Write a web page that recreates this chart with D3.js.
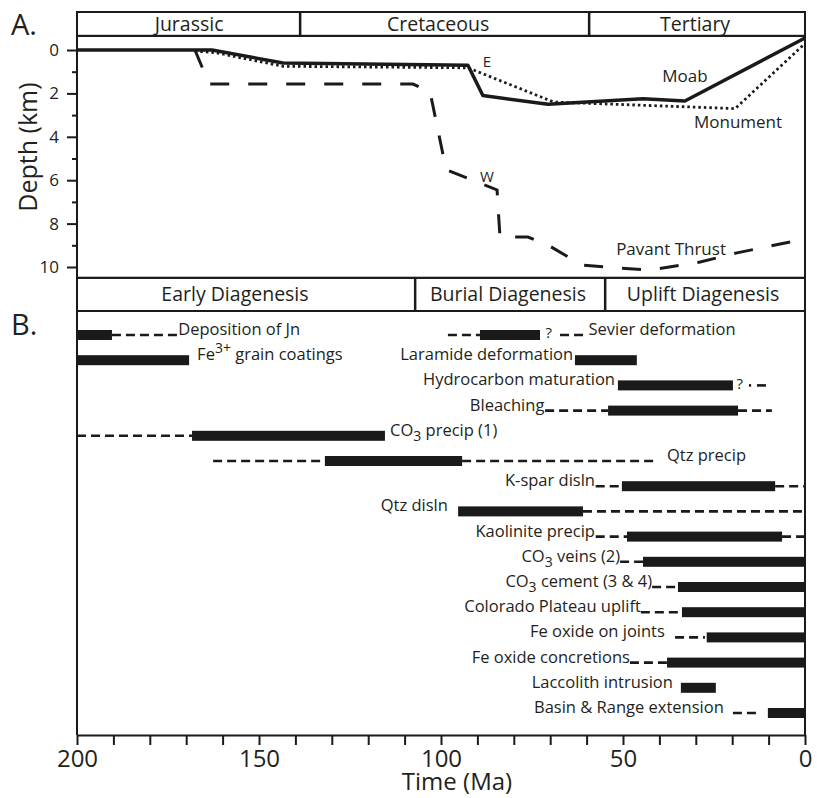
<!DOCTYPE html>
<html>
<head>
<meta charset="utf-8">
<script src="https://cdn.jsdelivr.net/npm/d3@7"></script>
<style>
  body { margin: 0; background: #fff; }
  text { font-family: "Open Sans", sans-serif; fill: #231f20; }
</style>
</head>
<body>
<script>
// ---- data ----
// geologic periods and diagenesis stages (boundaries in Ma, label centre in Ma)
var periods = ["Jurassic", "Cretaceous", "Tertiary"];
var periodBounds = [200, 138.7, 59.3, 0];
var periodLabelAt = [169.2, 100.8, 30.2];
var stages = ["Early Diagenesis", "Burial Diagenesis", "Uplift Diagenesis"];
var stageBounds = [200, 107.1, 54.9, 0];
var stageLabelAt = [156.6, 81.6, 28.0];

// burial curves: age (Ma) and depth (km)
var moabAge = [200, 162.9, 143.4, 92.6, 88.5, 70.6, 44.5, 33, 0];
var moabDepth = [0, 0, 0.6, 0.7, 2.1, 2.5, 2.25, 2.35, -0.55];
var monumentAge = [167.6, 162, 143.4, 92.6, 69, 19.2, 0];
var monumentDepth = [0.05, 0.12, 0.75, 0.82, 2.4, 2.7, -0.3];
var pavantAge = [167.6, 163.7, 107.7, 103, 98.6, 84.6, 83.8, 81, 76.1, 70.6, 61.3, 50.8, 42.6, 28.8, 18.7, 8.2, 0];
var pavantDepth = [0, 1.57, 1.57, 1.94, 5.51, 6.45, 8.62, 8.62, 8.62, 8.99, 9.91, 10.05, 10.14, 9.77, 9.35, 8.99, 8.71];

// curve labels (age, depth at baseline)
var curveLabels = [
  { text: "E", age: 87.4, depth: 0.78, size: 15 },
  { text: "Moab", age: 33, depth: 1.47, size: 17 },
  { text: "Monument", age: 18.4, depth: 3.6, size: 17 },
  { text: "W", age: 87.4, depth: 6.08, size: 15 },
  { text: "Pavant Thrust", age: 36.8, depth: 9.45, size: 17 }
];

// paragenetic events: row, solid spans, dashed spans (Ma), label position
var events = [
  { name: "Deposition of Jn", row: 0, bars: [[200, 190.4]], dashes: [[190.4, 172.3]], at: 172.2, side: "start" },
  { name: "Sevier deformation", row: 0, bars: [[89.3, 72.8]], dashes: [[98.1, 89.3], [67.3, 59.6]], at: 59.5, side: "start" },
  { name: "Fe^{3+} grain coatings", row: 1, bars: [[200, 169.2]], dashes: [], at: 167.0, side: "start" },
  { name: "Laramide deformation", row: 1, bars: [[63.2, 46.2]], dashes: [], at: 63.7, side: "end" },
  { name: "Hydrocarbon maturation", row: 2, bars: [[51.4, 19.8]], dashes: [[15.4, 14.8], [13.2, 10.2]], at: 52.2, side: "end" },
  { name: "Bleaching", row: 3, bars: [[54.1, 18.4]], dashes: [[71.4, 54.1], [18.4, 9.1]], at: 71.6, side: "end" },
  { name: "CO_{3} precip (1)", row: 4, bars: [[168.4, 115.4]], dashes: [[200, 168.4]], at: 114.0, side: "start" },
  { name: "Qtz precip", row: 5, bars: [[131.9, 94.2]], dashes: [[162.6, 131.9], [94.2, 40.4]], at: 37.9, side: "start" },
  { name: "K-spar disln", row: 6, bars: [[50.3, 8.2]], dashes: [[57.5, 50.3], [8.2, 0]], at: 57.7, side: "end" },
  { name: "Qtz disln", row: 7, bars: [[95.3, 61.0]], dashes: [[61.0, 0]], at: 98.1, side: "end" },
  { name: "Kaolinite precip", row: 8, bars: [[48.9, 6.3]], dashes: [[57.5, 48.9], [6.3, 0]], at: 57.7, side: "end" },
  { name: "CO_{3} veins (2)", row: 9, bars: [[44.5, 0]], dashes: [[50.8, 44.5]], at: 50.8, side: "end" },
  { name: "CO_{3} cement (3 & 4)", row: 10, bars: [[34.9, 0]], dashes: [[42.0, 34.9]], at: 42.0, side: "end" },
  { name: "Colorado Plateau uplift", row: 11, bars: [[33.8, 0]], dashes: [[45.1, 33.8]], at: 45.1, side: "end" },
  { name: "Fe oxide on joints", row: 12, bars: [[27.0, 0]], dashes: [[35.7, 27.5]], at: 38.5, side: "end" },
  { name: "Fe oxide concretions", row: 13, bars: [[37.9, 0]], dashes: [[48.1, 37.9]], at: 48.1, side: "end" },
  { name: "Laccolith intrusion", row: 14, bars: [[34.1, 24.5]], dashes: [], at: 36.3, side: "end" },
  { name: "Basin & Range extension", row: 15, bars: [[10.2, 0]], dashes: [[19.8, 12.4]], at: 22.3, side: "end" }
];
var queries = [{ row: 0, age: 70.4 }, { row: 2, age: 17.9 }];

var depthLabels = [0, 2, 4, 6, 8, 10];
var depthMinor = [1, 3, 5, 7, 9];
var timeLabels = [200, 150, 100, 50, 0];
var timeTicks = [200, 190, 180, 170, 160, 150, 140, 130, 120, 110, 100, 90, 80, 70, 60, 50, 40, 30, 20, 10, 0];

// ---- chart ----
var ink = "#1a1a1a";
var svg = d3.select("body").append("svg")
  .attr("width", 817)
  .attr("height", 798);

var x = d3.scaleLinear().domain([200, 0]).range([77, 805]);
var depth = d3.scaleLinear().domain([0, 10]).range([50, 267]);
var rowY = d3.scalePoint().domain(d3.range(16)).range([335, 713]);

var topA = depth(-0.65), botA = depth(10.5);
var bandTop = 12, stageBot = 311, axisY = 735;

function band(names, bounds, labelAt, y0, y1) {
  var g = svg.append("g");
  g.append("rect")
    .attr("x", x(200)).attr("y", y0)
    .attr("width", x(0) - x(200)).attr("height", y1 - y0)
    .attr("fill", "none").attr("stroke", ink).attr("stroke-width", 2);
  g.selectAll("line").data(bounds.slice(1, -1)).enter().append("line")
    .attr("x1", function (d) { return x(d); }).attr("x2", function (d) { return x(d); })
    .attr("y1", y0).attr("y2", y1)
    .attr("stroke", ink).attr("stroke-width", 2.5);
  g.selectAll("text").data(names).enter().append("text")
    .attr("x", function (d, i) { return x(labelAt[i]); })
    .attr("y", (y0 + y1) / 2)
    .attr("dy", "0.36em")
    .attr("text-anchor", "middle")
    .attr("font-size", 19.5)
    .text(function (d) { return d; });
}

band(periods, periodBounds, periodLabelAt, bandTop, topA);
band(stages, stageBounds, stageLabelAt, botA, stageBot);

// panel A frame
svg.append("rect")
  .attr("x", x(200)).attr("y", topA)
  .attr("width", x(0) - x(200)).attr("height", botA - topA)
  .attr("fill", "none").attr("stroke", ink).attr("stroke-width", 2);

// panel B side lines
[200, 0].forEach(function (a) {
  svg.append("line")
    .attr("x1", x(a)).attr("x2", x(a))
    .attr("y1", stageBot).attr("y2", axisY)
    .attr("stroke", ink).attr("stroke-width", 2);
});

// depth axis
function styleAxis(g) {
  g.select(".domain").remove();
  g.selectAll(".tick line").attr("stroke", ink).attr("stroke-width", 2);
  g.attr("font-family", null);
}
svg.append("g")
  .attr("transform", "translate(" + x(200) + ",0)")
  .call(d3.axisLeft(depth).tickValues(depthLabels).tickSize(10).tickPadding(8))
  .call(styleAxis)
  .attr("font-size", 17);
svg.append("g")
  .attr("transform", "translate(" + x(200) + ",0)")
  .call(d3.axisLeft(depth).tickValues(depthMinor).tickSize(5).tickFormat(""))
  .call(styleAxis);

svg.append("text")
  .attr("transform", "translate(37," + 147 + ") rotate(-90)")
  .attr("text-anchor", "middle")
  .attr("font-size", 25)
  .text("Depth (km)");

// time axis
var tAxis = svg.append("g")
  .attr("transform", "translate(0," + axisY + ")")
  .call(d3.axisBottom(x).tickValues(timeTicks).tickSize(10).tickSizeOuter(0).tickPadding(5)
    .tickFormat(function (d) { return timeLabels.indexOf(d) >= 0 ? d : ""; }))
  .attr("font-size", 24)
  .attr("font-family", null);
tAxis.select(".domain").attr("stroke", ink).attr("stroke-width", 2);
tAxis.selectAll(".tick line").attr("stroke", ink).attr("stroke-width", 2);

svg.append("text")
  .attr("x", 457).attr("y", 790)
  .attr("text-anchor", "middle")
  .attr("font-size", 24)
  .text("Time (Ma)");

// panel letters
svg.append("text").attr("x", 11).attr("y", 35).attr("font-size", 29).text("A.");
svg.append("text").attr("x", 11).attr("y", 335).attr("font-size", 29).text("B.");

// burial curves
var line = d3.line()
  .x(function (d) { return x(d[0]); })
  .y(function (d) { return depth(d[1]); });

svg.append("path")
  .datum(d3.zip(pavantAge, pavantDepth))
  .attr("d", line)
  .attr("fill", "none").attr("stroke", ink)
  .attr("stroke-width", 3).attr("stroke-dasharray", "19,19");

svg.append("path")
  .datum(d3.zip(monumentAge, monumentDepth))
  .attr("d", line)
  .attr("fill", "none").attr("stroke", ink)
  .attr("stroke-width", 2.8).attr("stroke-dasharray", "2.5,3");

svg.append("path")
  .datum(d3.zip(moabAge, moabDepth))
  .attr("d", line)
  .attr("fill", "none").attr("stroke", ink)
  .attr("stroke-width", 3.5).attr("stroke-linejoin", "round");

svg.append("g")
  .selectAll("text")
  .data(curveLabels)
  .enter().append("text")
  .attr("x", function (d) { return x(d.age); })
  .attr("y", function (d) { return depth(d.depth); })
  .attr("text-anchor", "middle")
  .attr("font-size", function (d) { return d.size; })
  .text(function (d) { return d.text; });

// events (panel B)
function richText(sel, str) {
  var back = 0;
  str.split(/([_^]\{[^}]*\})/).forEach(function (p) {
    if (!p) return;
    var m = p.match(/^([_^])\{(.*)\}$/);
    if (m) {
      var dy = m[1] === "_" ? 5 : -7;
      sel.append("tspan").attr("dy", dy).attr("font-size", "0.85em").text(m[2]);
      back = -dy;
    } else {
      sel.append("tspan").attr("dy", back).text(p);
      back = 0;
    }
  });
}

var ev = svg.append("g")
  .selectAll("g")
  .data(events)
  .enter().append("g")
  .attr("transform", function (d) { return "translate(0," + rowY(d.row) + ")"; });

ev.selectAll("line")
  .data(function (d) { return d.dashes; })
  .enter().append("line")
  .attr("x1", function (s) { return x(s[0]); })
  .attr("x2", function (s) { return x(s[1]); })
  .attr("stroke", ink).attr("stroke-width", 2.6)
  .attr("stroke-dasharray", "9,5");

ev.selectAll("rect")
  .data(function (d) { return d.bars; })
  .enter().append("rect")
  .attr("x", function (s) { return x(s[0]); })
  .attr("width", function (s) { return x(s[1]) - x(s[0]); })
  .attr("y", -5).attr("height", 10)
  .attr("fill", ink);

ev.append("text")
  .attr("x", function (d) { return x(d.at); })
  .attr("dy", "0.36em")
  .attr("text-anchor", function (d) { return d.side; })
  .attr("font-size", 16.5)
  .each(function (d) { richText(d3.select(this), d.name); });

svg.append("g")
  .selectAll("text")
  .data(queries)
  .enter().append("text")
  .attr("x", function (d) { return x(d.age); })
  .attr("y", function (d) { return rowY(d.row) - 2; })
  .attr("dy", "0.36em")
  .attr("text-anchor", "middle")
  .attr("font-size", 15)
  .text("?");
</script>
</body>
</html>
